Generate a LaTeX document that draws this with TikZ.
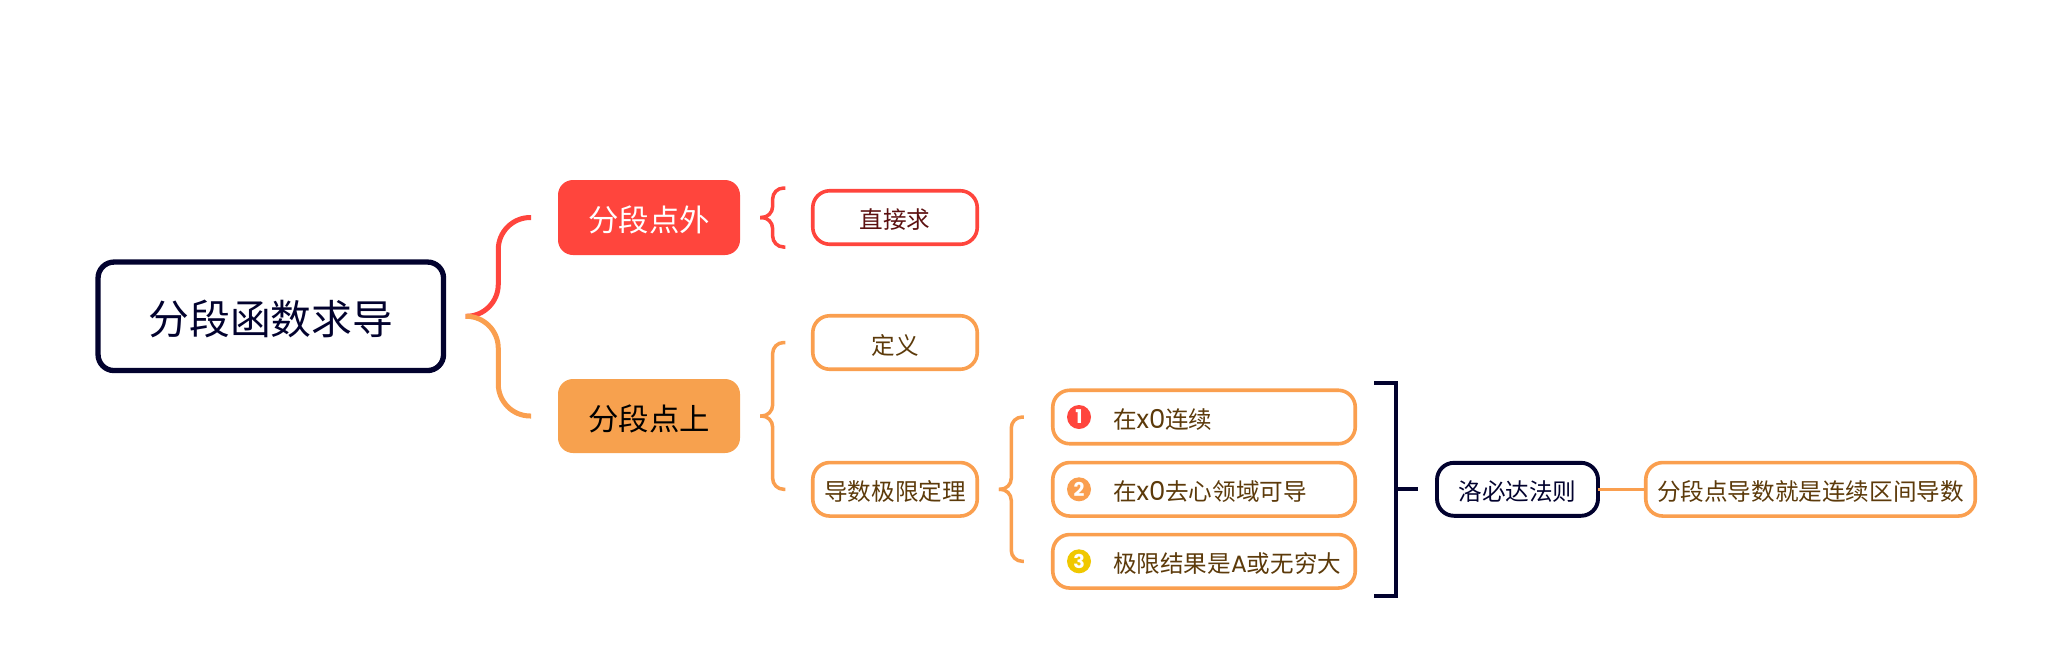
\documentclass[tikz,border=0pt]{standalone}
\usepackage{fontspec}
\setmainfont{Noto Sans CJK SC}
\newfontfamily\latinf{Poppins}
\usetikzlibrary{calc}
\definecolor{cRed}{HTML}{FF453D}
\definecolor{cOrg}{HTML}{FA9F4F}
\definecolor{cOrgF}{HTML}{F7A14E}
\definecolor{cNavy}{HTML}{02022E}
\definecolor{cTxtR}{HTML}{5C1010}
\definecolor{cTxtO}{HTML}{5C3A0A}
\definecolor{cYel}{HTML}{F0C800}
\newcommand{\fsz}[1]{\fontsize{#1pt}{#1pt}\selectfont}
\newcommand{\lowt}[1]{\raisebox{-2.5pt}[\height][\depth]{#1}}
\newcommand{\lat}[1]{{\latinf\fsz{26}#1}}
\tikzset{
  x=1pt,y=-1pt,
  every node/.style={inner sep=0pt,outer sep=0pt,align=center},
  rootbox/.style={draw=cNavy,line width=5.3pt,fill=white,rounded corners=16pt,minimum width=345.5pt,minimum height=108.5pt,text=cNavy,font=\fsz{40.8}},
  mainbox/.style={rounded corners=15pt,minimum width=182pt,minimum height=75pt,font=\fsz{30.4}},
  subbox/.style={draw=cOrg,line width=3.6pt,fill=white,rounded corners=17pt,minimum width=164.5pt,minimum height=53.5pt,text=cTxtO,font=\fsz{23.6}},
  wide/.style={subbox,minimum width=302.5pt},
  last/.style={subbox,minimum width=329.5pt},
  navybox/.style={subbox,draw=cNavy,line width=3.9pt,text=cNavy,minimum width=161pt,minimum height=53pt},
  bigbrace/.style={line width=5pt,rounded corners=32pt},
  smallbrace/.style={line width=3.5pt,rounded corners=11pt},
  numdot/.style={circle,minimum size=24pt,text=white,font=\fsz{19}\latinf\bfseries},
  itemtext/.style={anchor=west,text=cTxtO,font=\fsz{23.6}},
}
\newcommand{\bracearm}[4]{\draw[#1,#2] (#3) -| ($(#4-|#3)!0.5!(#4)$) -- (#4);}
\begin{document}
\begin{tikzpicture}
\useasboundingbox (0,0) rectangle (2049,662);
\node[rootbox] (root) at (270.8,316.3) {\lowt{分段函数求导}};
\node[mainbox,fill=cRed,text=white] (out) at (649,217.5) {\lowt{分段点外}};
\node[mainbox,fill=cOrgF,text=black,minimum height=74pt] (on) at (649,416) {\lowt{分段点上}};
\node[subbox,draw=cRed,text=cTxtR] (direct) at (895,217.5) {\lowt{直接求}};
\node[subbox] (def) at (895,342.5) {\lowt{定义}};
\node[subbox] (thm) at (895,489.3) {\lowt{导数极限定理}};
\node[wide] (c1) at (1204,417) {};
\node[wide] (c2) at (1204,489.3) {};
\node[wide] (c3) at (1204,561.3) {};
\node[numdot,fill=cRed] (n1) at (1079,417) {1};
\node[numdot,fill=cOrg] (n2) at (1079,489.3) {2};
\node[numdot,fill=cYel] (n3) at (1079,561.3) {3};
\node[itemtext] (t1) at (1113,417) {\lowt{在\lat{x0}连续}};
\node[itemtext] (t2) at (1113,489.3) {\lowt{在\lat{x0}去心领域可导}};
\node[itemtext] (t3) at (1113,561.3) {\lowt{极限结果是{\latinf A}或无穷大}};
\node[navybox] (lh) at (1517.5,489.3) {\lowt{洛必达法则}};
\node[last] (res) at (1810.5,489.3) {\lowt{分段点导数就是连续区间导数}};

\coordinate (rt) at ($(root.east)+(22,0)$);
\coordinate (ra) at ($(out.west)+(-27,0)$);
\coordinate (rb) at ($(on.west)+(-27,0)$);
\bracearm{bigbrace}{cRed}{rt}{ra}
\bracearm{bigbrace}{cOrg}{rt}{rb}

\coordinate (s1) at ($(out.east)+(20,0)$);
\coordinate (s1a) at ($(direct.west)+(-27.5,-29.5)$);
\coordinate (s1b) at ($(direct.west)+(-27.5,29.5)$);
\bracearm{smallbrace}{cRed}{s1}{s1a}
\bracearm{smallbrace}{cRed}{s1}{s1b}

\coordinate (s2) at ($(on.east)+(20,0)$);
\coordinate (s2a) at ($(def.west)+(-27.5,0)$);
\coordinate (s2b) at ($(thm.west)+(-27.5,0)$);
\bracearm{smallbrace}{cOrg}{s2}{s2a}
\bracearm{smallbrace}{cOrg}{s2}{s2b}

\coordinate (s3) at ($(thm.east)+(21.5,0)$);
\coordinate (s3a) at ($(c1.west)+(-29,0)$);
\coordinate (s3b) at ($(c3.west)+(-29,0)$);
\bracearm{smallbrace}{cOrg}{s3}{s3a}
\bracearm{smallbrace}{cOrg}{s3}{s3b}

\coordinate (bt) at (1374,383);
\coordinate (bb) at (1374,596);
\coordinate (bm) at (1396,489.3);
\coordinate (bc) at (1418,489.3);
\draw[cNavy,line width=3.8pt] (bt) -| (bm) |- (bb);
\draw[cNavy,line width=3.8pt] (bm) -- (bc);
\draw[cOrg,line width=3.6pt] (lh.east) -- (res.west);
\end{tikzpicture}
\end{document}
